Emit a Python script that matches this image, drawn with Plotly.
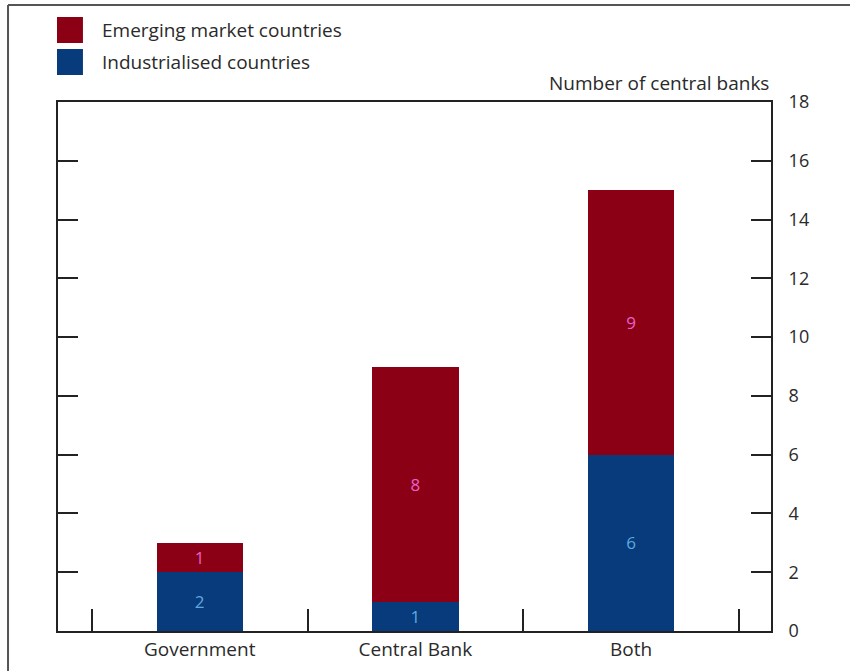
import plotly.graph_objects as go

categories = ["Government", "Central Bank", "Both"]
industrialised = [2, 1, 6]
emerging = [1, 8, 9]
series_names = ["Emerging market countries", "Industrialised countries"]
y_ticks = [0, 2, 4, 6, 8, 10, 12, 14, 16, 18]
y_title = "Number of central banks"

RED = "#8c0016"
BLUE = "#083b7c"
FONT = "Open Sans"
AX = "#222222"
TXT = "#2a2a2a"

fig = go.Figure()
fig.add_trace(go.Bar(
    x=categories, y=industrialised, name=series_names[1],
    marker=dict(color=BLUE, line=dict(width=0)),
    text=industrialised, textposition="inside", insidetextanchor="middle",
    textfont=dict(color="#5fa8dc", size=17, family=FONT),
    showlegend=False,
))
fig.add_trace(go.Bar(
    x=categories, y=emerging, name=series_names[0],
    marker=dict(color=RED, line=dict(width=0)),
    text=emerging, textposition="inside", insidetextanchor="middle",
    textfont=dict(color="#e860c8", size=17, family=FONT),
    showlegend=False,
))

# manual legend (large squares)
shapes = []
annotations = []
legend_rows = [(series_names[0], RED, 1.1607, 1.1115, 1.136),
               (series_names[1], BLUE, 1.1002, 1.0510, 1.0756)]
for name, col, top, bot, mid in legend_rows:
    shapes.append(dict(type="rect", xref="paper", yref="paper",
                       x0=-0.0014, x1=0.035, y0=bot, y1=top,
                       fillcolor=col, line=dict(width=0)))
    annotations.append(dict(xref="paper", yref="paper", x=0.0589, y=mid,
                            xanchor="left", yanchor="middle", showarrow=False,
                            text=name, font=dict(size=19, family=FONT, color=TXT)))

annotations.append(dict(xref="paper", yref="paper", x=1.0, y=1.036,
                        xanchor="right", yanchor="middle", showarrow=False,
                        text=y_title, font=dict(size=19, family=FONT, color=TXT)))

# outer frame (top and left edges)
shapes.append(dict(type="line", xref="paper", yref="paper",
                   x0=-0.0701, x1=1.12, y0=1.1834, y1=1.1834,
                   line=dict(color="#555555", width=2)))
shapes.append(dict(type="line", xref="paper", yref="paper",
                   x0=-0.0701, x1=-0.0701, y0=1.1834, y1=-0.09,
                   line=dict(color="#555555", width=2)))

fig.update_layout(
    barmode="stack",
    bargap=0.6,
    width=850, height=671,
    margin=dict(l=58, r=79, t=102, b=40, autoexpand=False),
    paper_bgcolor="white", plot_bgcolor="white",
    font=dict(family=FONT, size=18, color=TXT),
    shapes=shapes,
    annotations=annotations,
    showlegend=False,
    xaxis=dict(
        type="category",
        range=[-0.657, 2.649],
        tickson="boundaries",
        ticks="inside", ticklen=22, tickwidth=2, tickcolor=AX,
        showline=True, linecolor=AX, linewidth=2, mirror=True,
        showgrid=False, zeroline=False, automargin=False,
        tickfont=dict(size=19, family=FONT, color=TXT),
    ),
    yaxis=dict(
        side="right",
        range=[0, 18],
        tickmode="array", tickvals=y_ticks,
        ticks="inside", ticklen=20, tickwidth=2, tickcolor=AX,
        showline=True, linecolor=AX, linewidth=2, mirror="ticks",
        showgrid=False, zeroline=False, automargin=False,
        ticklabelstandoff=12,
        tickfont=dict(size=18, family=FONT, color=TXT),
    ),
)

fig.write_html("out.html")
